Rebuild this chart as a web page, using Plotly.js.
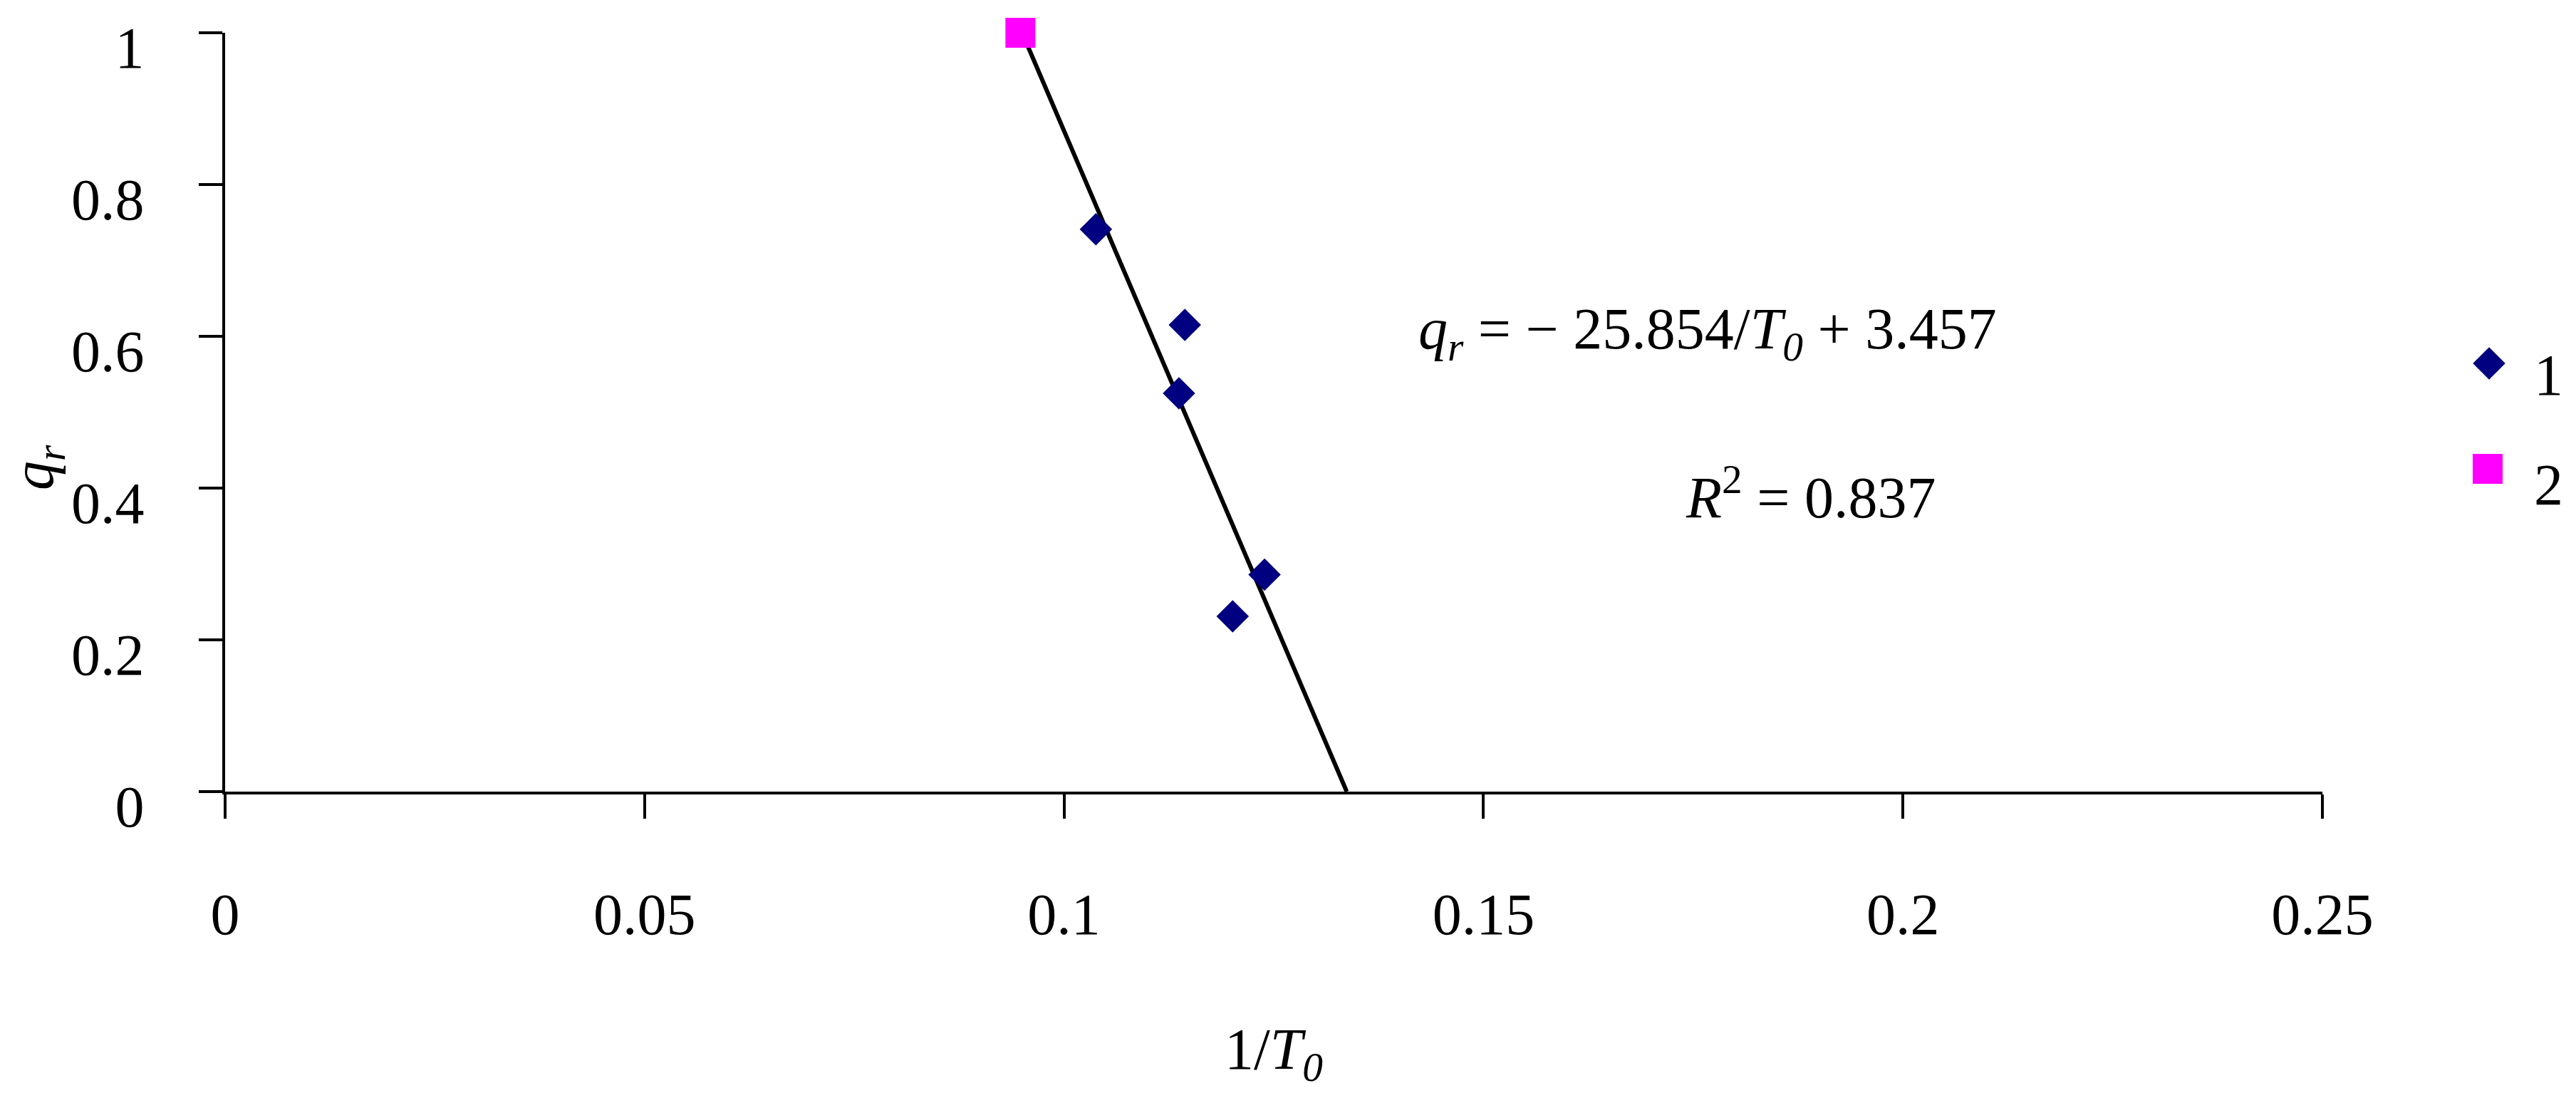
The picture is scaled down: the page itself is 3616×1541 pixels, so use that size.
<!DOCTYPE html>
<html>
<head>
<meta charset="utf-8">
<script src="https://cdn.plot.ly/plotly-3.0.1.min.js"></script>
<style>
  html, body { margin: 0; padding: 0; background: #ffffff; }
  #chart { width: 3616px; height: 1541px; }
</style>
</head>
<body>
<div id="chart"></div>
<script>
// ---- data ----
const series1Name = "1";
const series1X = [0.1038, 0.1144, 0.1137, 0.1239, 0.1201];
const series1Y = [0.741, 0.615, 0.525, 0.286, 0.231];

const series2Name = "2";
const series2X = [0.0948];
const series2Y = [1.0];

const trendX = [0.0950, 0.1337];
const trendY = [1.0, 0.0];

const xTickVals = [0, 0.05, 0.1, 0.15, 0.2, 0.25];
const xTickText = ["0", "0.05", "0.1", "0.15", "0.2", "0.25"];
const yTickVals = [0, 0.2, 0.4, 0.6, 0.8, 1];
const yTickText = ["0", "0.2", "0.4", "0.6", "0.8", "1"];

const equationText = "<i>q<sub>r</sub></i> = \u2212 25.854/<i>T<sub>0</sub></i> + 3.457";
const r2Text = "<i>R</i><sup>2</sup> = 0.837";
const xTitleText = "1/<i>T<sub>0</sub></i>";
const yTitleText = "<i>q<sub>r</sub></i>";

// ---- geometry (pixels) ----
const W = 3616, H = 1541;
const mL = 316, mR = 16, mT = 46, mB = 430;
const paperW = W - mL - mR;
const paperH = H - mT - mB;
const plotRight = 3260;
const px2x = p => (p - mL) / paperW;
const py2y = p => (H - mB - p) / paperH;

const FONT = '"Liberation Serif", "Times New Roman", serif';
const FS = 82;

const navy = "#000080";
const magenta = "#FF00FF";

const traces = [
  {
    x: trendX, y: trendY, mode: "lines", type: "scatter",
    line: { color: "#000000", width: 6 },
    showlegend: false, hoverinfo: "skip", cliponaxis: false
  },
  {
    x: series1X, y: series1Y, mode: "markers", type: "scatter", name: series1Name,
    marker: { symbol: "diamond", size: 35, color: navy, line: { width: 0 } },
    showlegend: false, cliponaxis: false
  },
  {
    x: series2X, y: series2Y, mode: "markers", type: "scatter", name: series2Name,
    marker: { symbol: "square", size: 42, color: magenta, line: { width: 0 } },
    showlegend: false, cliponaxis: false
  },
  // custom legend (drawn in a small helper subplot)
  {
    x: [3494], y: [510], xaxis: "x2", yaxis: "y2", mode: "markers", type: "scatter",
    marker: { symbol: "diamond", size: 35, color: navy, line: { width: 0 } },
    showlegend: false, hoverinfo: "skip", cliponaxis: false
  },
  {
    x: [3492], y: [658], xaxis: "x2", yaxis: "y2", mode: "markers", type: "scatter",
    marker: { symbol: "square", size: 42, color: magenta, line: { width: 0 } },
    showlegend: false, hoverinfo: "skip", cliponaxis: false
  }
];

const layout = {
  width: W, height: H,
  margin: { l: mL, r: mR, t: mT, b: mB, pad: 0 },
  paper_bgcolor: "#ffffff", plot_bgcolor: "#ffffff",
  font: { family: FONT, size: FS, color: "#000000" },
  showlegend: false,
  xaxis: {
    domain: [0, px2x(plotRight)],
    range: [0, 0.25],
    tickmode: "array", tickvals: xTickVals, ticktext: xTickText,
    showgrid: false, zeroline: false,
    showline: true, linecolor: "#000000", linewidth: 4,
    ticks: "outside", ticklen: 34, tickwidth: 4, tickcolor: "#000000",
    ticklabelstandoff: 64,
    tickfont: { family: FONT, size: FS, color: "#000000" },
    title: { text: xTitleText, font: { family: FONT, size: FS, color: "#000000" }, standoff: 115 }
  },
  yaxis: {
    domain: [0, 1],
    range: [0, 1],
    tickmode: "array", tickvals: yTickVals, ticktext: yTickText,
    showgrid: false, zeroline: false,
    showline: true, linecolor: "#000000", linewidth: 4,
    ticks: "outside", ticklen: 33, tickwidth: 4, tickcolor: "#000000",
    ticklabelstandoff: 60, ticklabelshift: 20,
    tickfont: { family: FONT, size: FS, color: "#000000" }
  },
  xaxis2: {
    domain: [px2x(3400), px2x(3600)], range: [3400, 3600], anchor: "y2",
    visible: false, fixedrange: true
  },
  yaxis2: {
    domain: [py2y(800), py2y(400)], range: [800, 400], anchor: "x2",
    visible: false, fixedrange: true
  },
  annotations: [
    {
      text: yTitleText, xref: "paper", yref: "paper",
      x: px2x(52), y: py2y(656), xanchor: "center", yanchor: "middle",
      textangle: -90, showarrow: false,
      font: { family: FONT, size: FS, color: "#000000" }
    },
    {
      text: equationText, xref: "paper", yref: "paper",
      x: px2x(1989), y: py2y(467), xanchor: "left", yanchor: "middle",
      showarrow: false, font: { family: FONT, size: FS, color: "#000000" }
    },
    {
      text: r2Text, xref: "paper", yref: "paper",
      x: px2x(2364), y: py2y(692), xanchor: "left", yanchor: "middle",
      showarrow: false, font: { family: FONT, size: FS, color: "#000000" }
    },
    {
      text: series1Name, xref: "x2", yref: "y2",
      x: 3555, y: 526, xanchor: "left", yanchor: "middle",
      showarrow: false, font: { family: FONT, size: FS, color: "#000000" }
    },
    {
      text: series2Name, xref: "x2", yref: "y2",
      x: 3555, y: 680, xanchor: "left", yanchor: "middle",
      showarrow: false, font: { family: FONT, size: FS, color: "#000000" }
    }
  ]
};

Plotly.newPlot("chart", traces, layout, { staticPlot: true, displayModeBar: false });
</script>
</body>
</html>
